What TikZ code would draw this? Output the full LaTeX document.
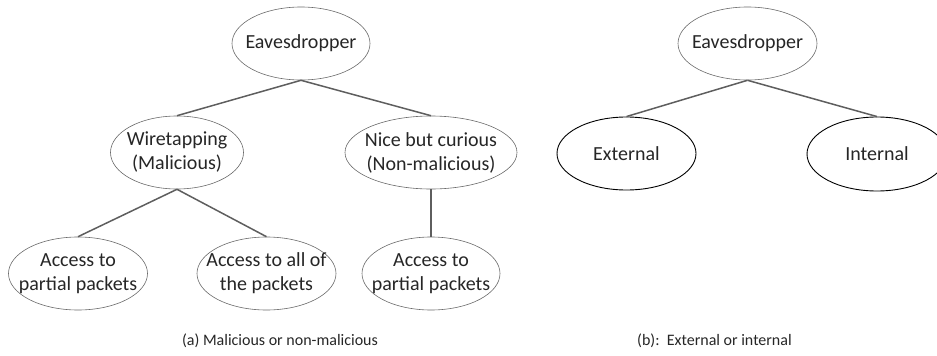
\documentclass[tikz,border=0pt]{standalone}
\usepackage{fontspec}
\setmainfont{Carlito}
\usetikzlibrary{shapes.geometric}
\definecolor{txtc}{HTML}{262626}
\definecolor{linec}{HTML}{5E5E5E}
\definecolor{ellc}{HTML}{6A6A6A}
\tikzset{
  ell/.style={ellipse, draw=ellc, line width=0.6pt, inner sep=0pt},
  ellb/.style={ellipse, draw=black, line width=0.9pt, inner sep=0pt},
  txt/.style={text=txtc, align=center, inner sep=0pt, font=\fontsize{20}{24}\selectfont},
  captext/.style={text=txtc, inner sep=0pt, font=\fontsize{16}{19}\selectfont},
  conn/.style={draw=linec, line width=1.5pt},
}
\begin{document}
\begin{tikzpicture}[x=1pt,y=-1pt]
\useasboundingbox (0,0) rectangle (937,356);
\clip (0,0) rectangle (937,356);
% (a)
\node[ell, minimum width=138pt, minimum height=73pt, label={[txt]center:Eavesdropper}] (ea) at (301,43.5) {};
\node[ell, minimum width=133pt, minimum height=73pt, label={[txt]center:{Wiretapping\\(Malicious)}}] (wt) at (177,152.5) {};
\node[ell, minimum width=172pt, minimum height=73pt, label={[txt]center:{Nice but curious\\(Non-malicious)}}] (nc) at (431,152.5) {};
\node[ell, minimum width=139pt, minimum height=73pt, label={[txt]center:{Access to\\partial packets}}] (p1) at (78,273.5) {};
\node[ell, minimum width=139pt, minimum height=73pt, label={[txt]center:{Access to all of\\the packets}}] (al) at (266.5,273.5) {};
\node[ell, minimum width=138pt, minimum height=73pt, label={[txt]center:{Access to\\partial packets}}] (p2) at (431,273.5) {};
\draw[conn] (ea.south) -- (wt.north);
\draw[conn] (ea.south) -- (nc.north);
\draw[conn] (wt.south) -- (p1.north);
\draw[conn] (wt.south) -- (al.north);
\draw[conn] (nc.south) -- (p2.north);
\node[captext] (ca) at (280,341) {(a) Malicious or non-malicious};
% (b)
\node[ell, minimum width=139pt, minimum height=73pt, label={[txt]center:Eavesdropper}] (eb) at (747.5,43.5) {};
\node[ellb, minimum width=139pt, minimum height=73pt, label={[txt]center:External}] (ex) at (626.5,153.5) {};
\node[ellb, minimum width=140pt, minimum height=74pt, label={[txt]center:Internal}] (in) at (877,154) {};
\draw[conn] (eb.south) -- (ex.north);
\draw[conn] (eb.south) -- (in.north);
\node[captext, anchor=west] (cb) at (637,341) {(b):\ \ External or internal};
\end{tikzpicture}
\end{document}
